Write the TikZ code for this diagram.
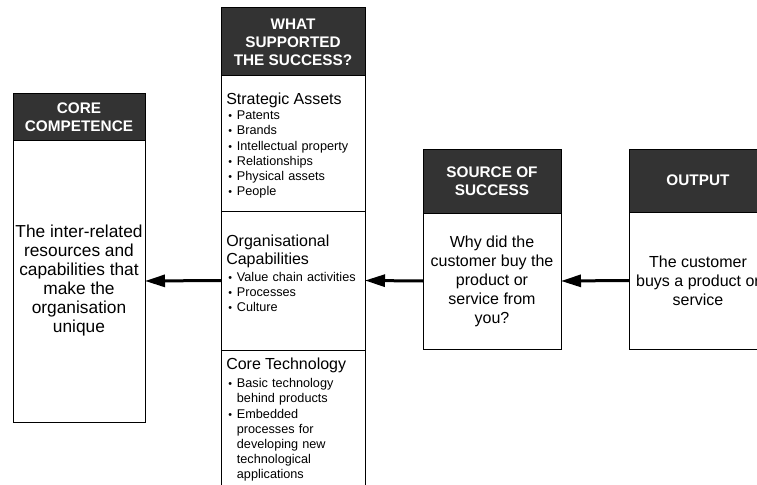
\documentclass[tikz,border=0pt]{standalone}
\usepackage{fontspec}
\setmainfont{Liberation Sans}
\usetikzlibrary{arrows.meta, positioning}

\definecolor{headgray}{HTML}{333333}
\newcommand{\bul}[1]{\par\noindent\hangindent=8pt\hangafter=1\makebox[8pt][l]{\hspace{1.5pt}{\fontsize{8}{8}\selectfont\textbullet}}#1\par}

\begin{document}
\begin{tikzpicture}[x=0.75pt, y=-0.75pt,
		headbox/.style={rectangle,draw,fill=headgray,text=white,align=center,
			font=\bfseries\fontsize{11.5}{13.5}\selectfont,
			inner sep=0pt,outer sep=0pt,line width=0.75pt},
		bodybox/.style={rectangle,draw,fill=white,align=center,
			font=\fontsize{12}{14.2}\selectfont,
			inner sep=0pt,outer sep=0pt,line width=0.75pt},
		itemtext/.style={anchor=north west,text width=104pt,align=left,
			inner sep=0pt,font=\fontsize{9.5}{11.4}\selectfont},
		arrow/.style={-{Triangle[length=15pt,width=9pt]},line width=2.25pt}
		]
		\useasboundingbox (0,0) rectangle (757,485);

		% core competence
		\node[headbox, minimum width=99pt, minimum height=34.5pt](H0) at (79,117){CORE\\COMPETENCE};
		\node[bodybox, font=\fontsize{13}{14.25}\selectfont, minimum width=99pt, minimum height=211.5pt, below=0pt of H0](B0){The inter-related\\resources and\\capabilities that\\make the\\organisation\\unique};

		% what supported the success
		\node[headbox, minimum width=108pt, minimum height=51pt](H1) at (293,42){WHAT\\SUPPORTED\\THE SUCCESS?};
		\node[bodybox, minimum width=108pt, minimum height=101.25pt, below=0pt of H1](M1){};
		\node[bodybox, minimum width=108pt, minimum height=104.25pt, below=0pt of M1](M2){};
		\node[bodybox, minimum width=108pt, minimum height=106pt, below=0pt of M2](M3){};
		\node[itemtext] (T1) at ([xshift=3.75pt, yshift=-12.5pt]M1.north west)
			{{\fontsize{12}{14}\selectfont Strategic Assets\par}
			\bul{Patents}\bul{Brands}\bul{Intellectual property}
			\bul{Relationships}\bul{Physical assets}\bul{People}};
		\node[itemtext] (T2) at ([xshift=3.75pt, yshift=-18pt]M2.north west)
			{{\fontsize{12}{13.5}\selectfont Organisational\\Capabilities\par}\vspace{1pt}
			\bul{Value chain activities}\bul{Processes}\bul{Culture}};
		\node[itemtext] (T3) at ([xshift=3.75pt, yshift=-6pt]M3.north west)
			{{\fontsize{12}{14}\selectfont Core Technology\par}\vspace{2pt}
			\bul{Basic technology\newline behind products}
			\bul{Embedded\newline processes for\newline developing new\newline technological\newline applications}};

		% source of success
		\node[headbox, minimum width=103.5pt, minimum height=48pt](H2) at (492,181){SOURCE OF\\SUCCESS};
		\node[bodybox, minimum width=103.5pt, minimum height=102pt, below=0pt of H2](B2){Why did the\\customer buy the\\product or\\service from\\you?};

		% output
		\node[headbox, minimum width=103.5pt, minimum height=47.25pt](H3) at (698,180.5){OUTPUT};
		\node[bodybox, minimum width=103.5pt, minimum height=102.75pt, below=0pt of H3](B3){The customer\\buys a product or\\service};

		\draw[arrow] (B3.west) -- (B2.east);
		\draw[arrow] (B2.west) -- (M2.east);
		\draw[arrow] (M2.west) -- (B0.east);
	\end{tikzpicture}
\end{document}
